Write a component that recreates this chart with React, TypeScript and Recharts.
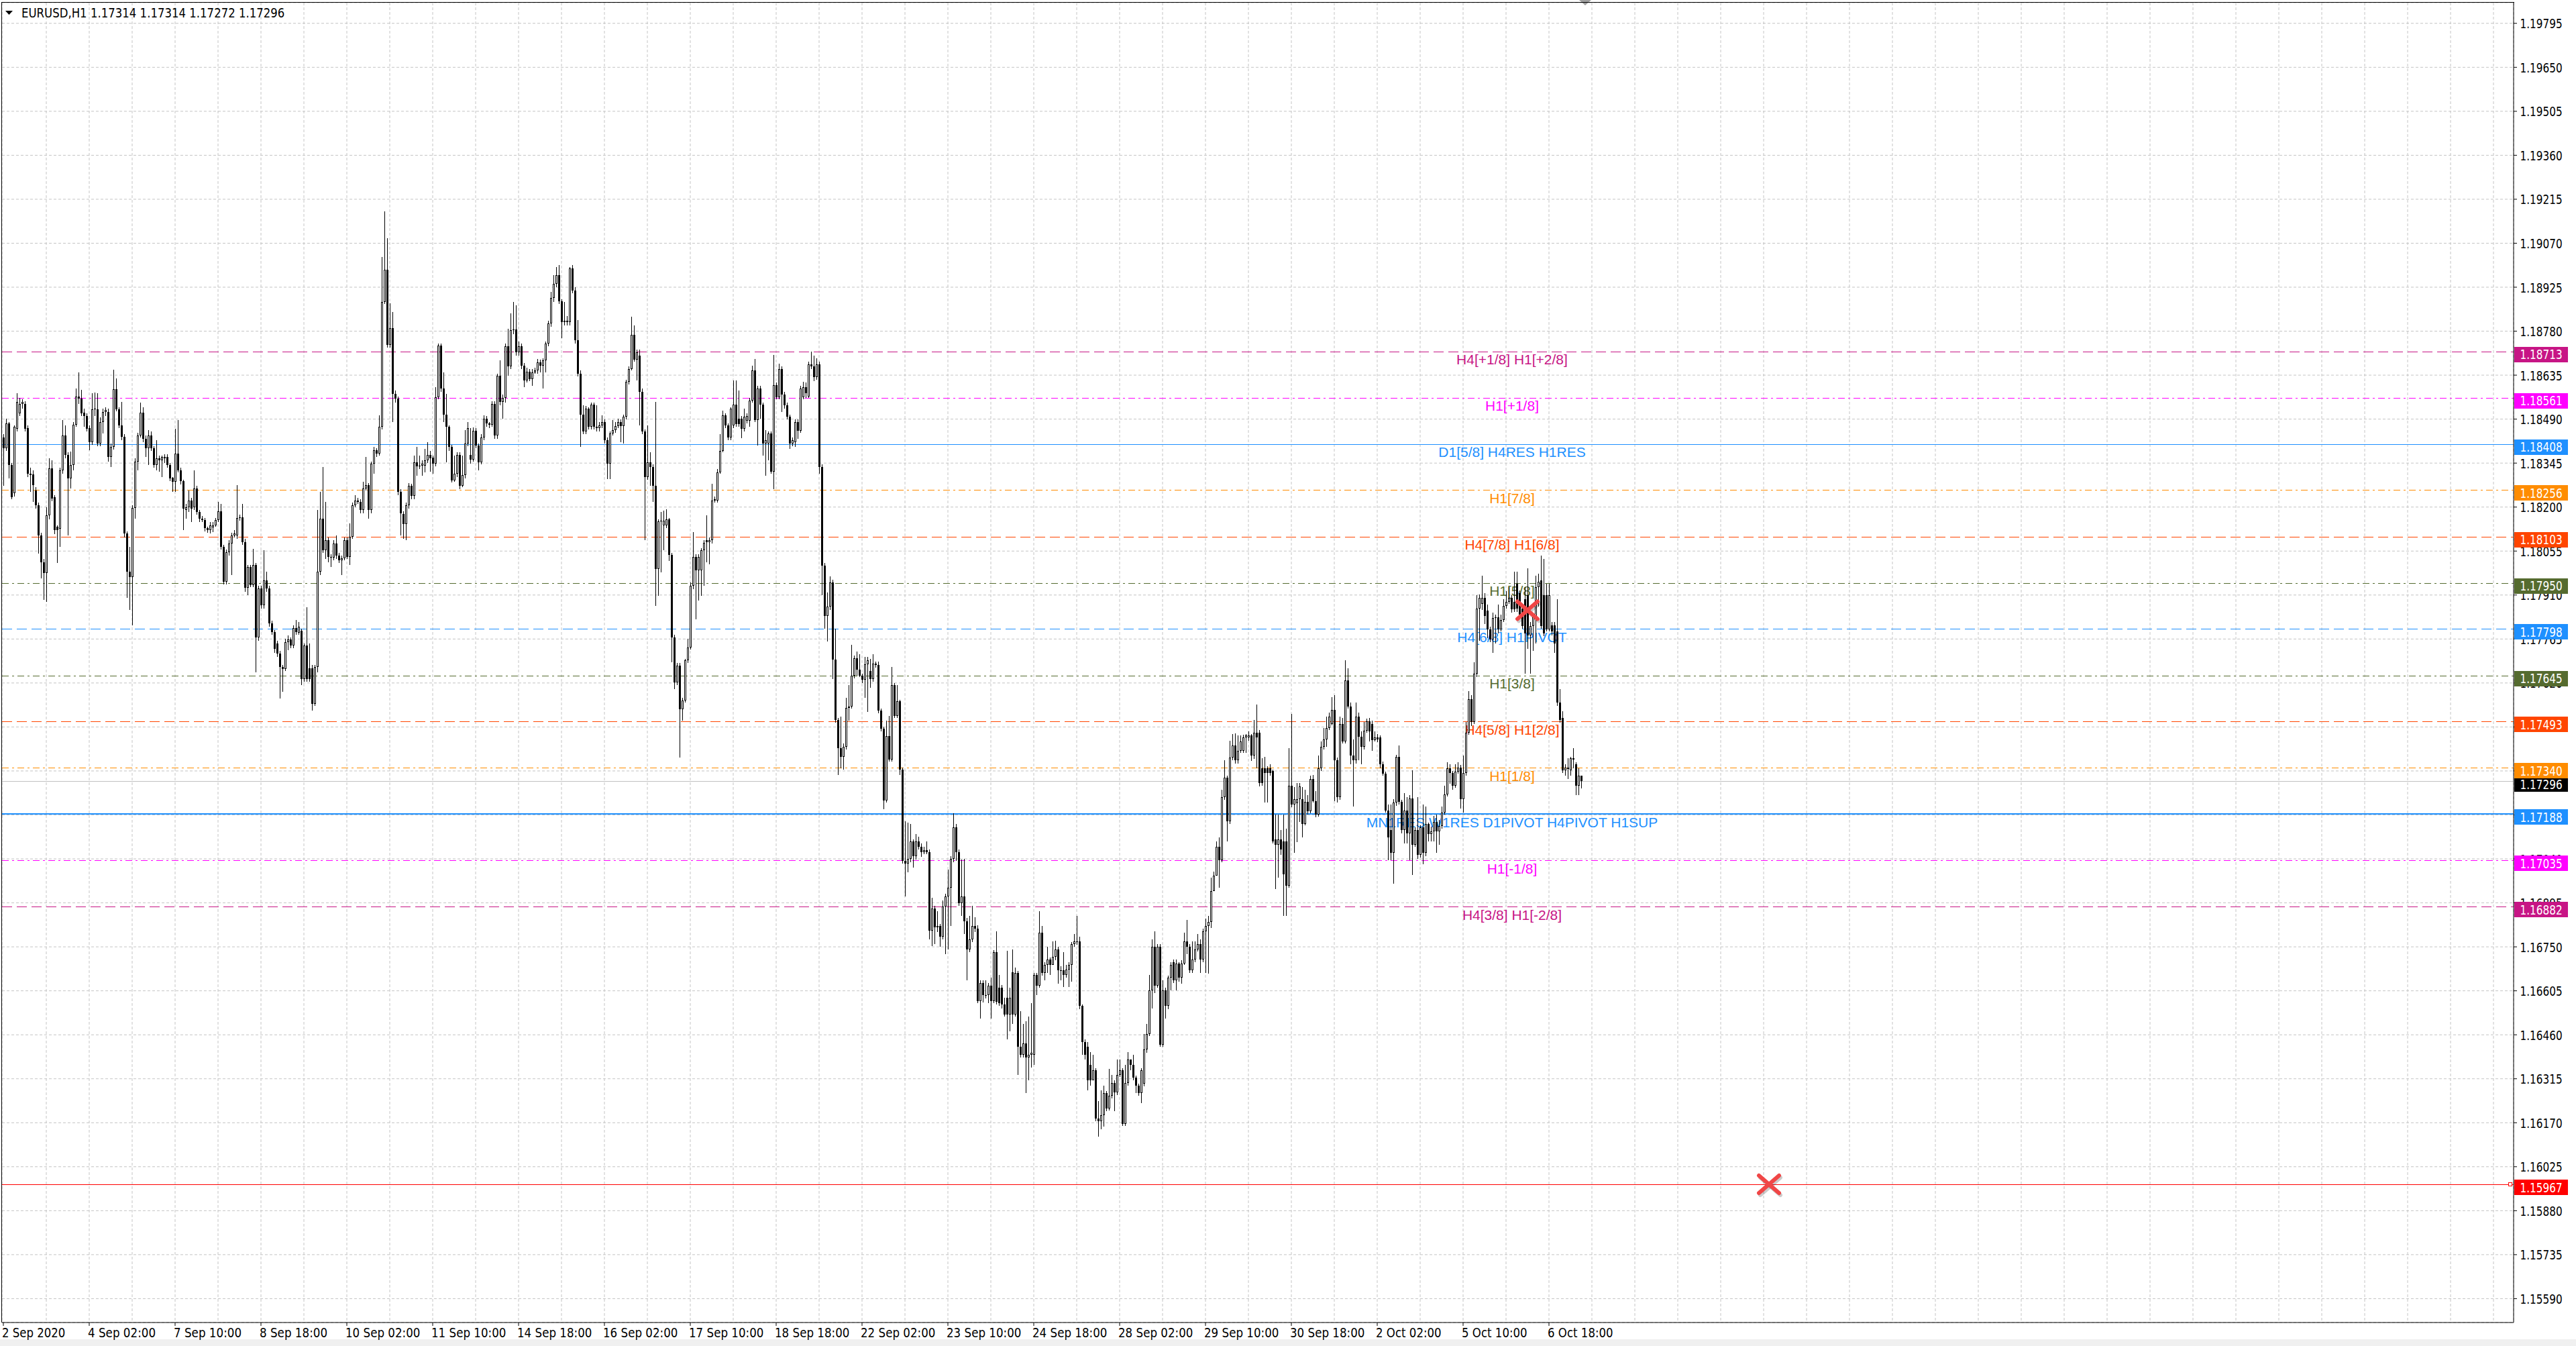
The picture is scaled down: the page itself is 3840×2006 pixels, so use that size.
import React from 'react';
import { ComposedChart, Bar, XAxis, YAxis, CartesianGrid, ReferenceLine, ReferenceDot } from 'recharts';

// ---------- data (prices in 1e-5 units above 1.10000) ----------
const PRICE_BASE = 1.1;
const PRICE_UNIT = 0.00001;

const OPEN = [
  8430,8393,8475,8338,8245,8459,8510,8540,8540,8461,
  8310,8307,8255,8206,8107,8019,7983,8173,8327,8233,
  8135,8129,8322,8437,8371,8294,8338,8472,8564,8558,
  8512,8501,8461,8415,8523,8523,8410,8481,8514,8514,
  8366,8399,8589,8523,8470,8431,8113,7988,7970,8197,
  8349,8437,8512,8426,8393,8437,8393,8338,8360,8355,
  8365,8366,8338,8296,8283,8377,8322,8285,8190,8200,
  8222,8200,8261,8184,8162,8157,8131,8124,8134,8140,
  8157,8186,8068,7953,8052,8080,8107,8107,8164,8167,
  8085,7933,8003,7942,8008,7771,7931,7876,7959,7931,
  7816,7788,7750,7717,7673,7667,7755,7764,7744,7801,
  7786,7793,7634,7744,7669,7669,7552,7673,7986,8162,
  8058,8091,8036,8033,8080,8041,8025,8031,8091,8036,
  8102,8206,8222,8217,8190,8261,8272,8190,8343,8387,
  8377,8465,8877,8982,8734,8789,8574,8558,8250,8177,
  8145,8205,8271,8236,8348,8335,8337,8337,8354,8373,
  8363,8343,8563,8733,8590,8504,8464,8398,8288,8310,
  8372,8271,8306,8409,8372,8357,8452,8403,8348,8430,
  8491,8475,8471,8540,8436,8634,8546,8559,8731,8665,
  8783,8786,8711,8731,8667,8618,8647,8623,8645,8650,
  8678,8667,8684,8739,8805,8889,8936,8964,8878,8810,
  8815,8810,8988,8915,8750,8640,8504,8449,8524,8464,
  8537,8464,8460,8469,8480,8420,8343,8442,8453,8467,
  8480,8467,8497,8612,8656,8768,8687,8700,8579,8449,
  8299,8348,8332,8271,7996,8152,8140,8140,8159,8042,
  7771,7622,7677,7534,7562,7694,7738,7941,8035,7991,
  7991,8057,8090,8084,8090,8222,8222,8315,8386,8502,
  8469,8430,8469,8537,8491,8491,8458,8485,8485,8552,
  8651,8486,8590,8537,8409,8409,8442,8317,8601,8563,
  8656,8570,8535,8497,8409,8414,8480,8452,8563,8596,
  8564,8671,8665,8629,8670,8332,8006,7842,7871,7951,
  7698,7498,7405,7376,7410,7537,7542,7644,7701,7664,
  7644,7630,7681,7660,7634,7684,7680,7528,7469,7232,
  7444,7368,7613,7512,7559,7334,7034,7024,7041,7097,
  7050,7097,7080,7063,7068,7063,6804,6877,6814,6819,
  6784,6882,6916,6945,7041,7143,7063,6894,6916,6835,
  6742,6775,6818,6811,6572,6631,6590,6590,6623,6572,
  6733,6615,6615,6560,6581,6527,6666,6527,6665,6420,
  6395,6432,6386,6395,6395,6657,6623,6797,6665,6691,
  6708,6691,6716,6742,6673,6673,6657,6675,6691,6758,
  6767,6767,6555,6437,6420,6361,6310,6344,6183,6175,
  6195,6268,6217,6259,6301,6270,6327,6344,6166,6301,
  6378,6361,6318,6293,6268,6300,6411,6462,6606,6750,
  6623,6750,6428,6606,6555,6648,6700,6640,6696,6648,
  6696,6767,6750,6673,6708,6742,6758,6708,6801,6818,
  6832,6934,6984,7079,7035,7244,7307,7164,7375,7413,
  7365,7396,7396,7441,7441,7447,7380,7456,7456,7339,
  7339,7339,7339,7329,7105,7086,7105,7098,7098,6952,
  7282,7219,7224,7238,7238,7155,7228,7197,7304,7231,
  7187,7339,7409,7434,7472,7485,7532,7365,7244,7485,
  7428,7628,7542,7380,7365,7510,7443,7409,7463,7494,
  7485,7431,7441,7441,7352,7320,7200,7136,7060,7225,
  7377,7228,7136,7200,7124,7240,7086,7136,7054,7143,
  7060,7155,7121,7130,7162,7130,7149,7193,7253,7339,
  7324,7282,7327,7342,7238,7324,7456,7567,7491,7650,
  7865,7880,7900,7859,7796,7764,7834,7836,7796,7827,
  7874,7887,7900,7887,7948,7916,7865,7897,7910,7777,
  7808,7840,7935,7958,7910,7910,7796,7810,7810,7789,
  7555,7504,7333,7340,7333,7371,7352,7282,7314,
];

const HIGH = [
  8440,8492,8480,8345,8470,8575,8560,8555,8550,8470,
  8330,8320,8265,8215,8115,8030,8200,8360,8355,8240,
  8140,8330,8487,8470,8380,8382,8480,8591,8644,8586,
  8525,8510,8470,8575,8578,8575,8495,8525,8530,8525,
  8410,8652,8624,8530,8547,8440,8120,8068,8205,8360,
  8445,8545,8530,8435,8453,8450,8400,8420,8370,8370,
  8375,8375,8345,8300,8459,8487,8330,8290,8210,8255,
  8230,8322,8270,8190,8170,8165,8135,8150,8150,8165,
  8217,8211,8075,8060,8090,8115,8125,8272,8175,8211,
  8095,8010,8010,8063,8015,7940,7940,8057,7986,7940,
  7825,7795,7760,7725,7680,7765,7777,7770,7810,7827,
  7821,7800,7750,7870,7750,7680,7680,8190,8250,8333,
  8217,8100,8045,8090,8107,8050,8040,8100,8100,8146,
  8215,8239,8230,8225,8283,8366,8280,8350,8398,8395,
  8503,9025,9174,9086,8872,8844,8585,8565,8260,8185,
  8215,8280,8277,8370,8398,8370,8355,8392,8414,8385,
  8370,8596,8739,8739,8645,8573,8470,8405,8370,8381,
  8380,8370,8453,8480,8460,8463,8460,8410,8440,8502,
  8500,8480,8550,8550,8640,8683,8570,8739,8788,8838,
  8876,8865,8745,8740,8675,8660,8655,8655,8660,8689,
  8685,8690,8745,8815,8909,8964,8992,8997,8885,8876,
  8830,8992,8999,8925,8816,8650,8535,8533,8530,8545,
  8545,8535,8480,8502,8490,8430,8450,8486,8480,8491,
  8490,8505,8620,8665,8827,8799,8720,8720,8590,8455,
  8469,8381,8340,8546,8160,8183,8189,8192,8165,8050,
  7780,7685,7685,7570,7700,7765,7952,8117,8045,8045,
  8065,8090,8172,8100,8277,8235,8325,8441,8518,8510,
  8475,8530,8618,8618,8585,8500,8524,8510,8560,8667,
  8689,8600,8600,8545,8453,8450,8450,8702,8610,8673,
  8665,8580,8545,8505,8430,8490,8490,8600,8612,8610,
  8680,8713,8700,8690,8679,8340,8015,7918,7972,7960,
  7799,7505,7508,7420,7571,7613,7745,7710,7723,7715,
  7650,7707,7707,7700,7715,7690,7690,7535,7475,7495,
  7512,7672,7620,7613,7565,7340,7165,7160,7156,7105,
  7122,7114,7090,7080,7097,7070,6911,6885,6868,6825,
  6902,6925,7004,7050,7190,7156,7070,7038,7041,6845,
  6851,6885,6848,6820,6640,6640,6640,6630,6648,6740,
  6801,6657,6625,6581,6736,6615,6742,6682,6670,6538,
  6496,6504,6521,6564,6665,6665,6868,6818,6700,6750,
  6715,6767,6770,6750,6685,6733,6690,6700,6765,6792,
  6851,6784,6560,6445,6437,6403,6395,6350,6242,6276,
  6293,6275,6347,6327,6310,6378,6378,6350,6361,6403,
  6378,6395,6325,6300,6350,6462,6496,6657,6775,6801,
  6760,6760,6640,6615,6655,6700,6708,6708,6700,6705,
  6797,6838,6760,6767,6767,6792,6775,6810,6843,6851,
  6978,6997,7098,7111,7269,7365,7315,7430,7451,7453,
  7447,7447,7450,7451,7460,7452,7497,7548,7465,7371,
  7377,7345,7352,7335,7187,7187,7136,7187,7139,7405,
  7517,7276,7289,7290,7276,7269,7250,7314,7316,7263,
  7380,7428,7472,7510,7523,7574,7580,7375,7510,7504,
  7694,7669,7555,7434,7555,7523,7460,7491,7502,7504,
  7495,7460,7451,7447,7360,7328,7219,7219,7238,7383,
  7415,7235,7257,7244,7250,7333,7145,7244,7150,7219,
  7212,7160,7146,7181,7187,7168,7212,7282,7358,7352,
  7330,7352,7358,7350,7380,7491,7593,7580,7688,7910,
  7912,7973,7916,7878,7805,7853,7846,7878,7846,7897,
  7922,7935,7910,7986,7986,7925,7875,7935,7999,7820,
  7850,7973,7980,8040,8030,7948,7948,7821,7821,7897,
  7600,7527,7352,7371,7377,7405,7358,7339,7314,
];

const LOW = [
  8270,8385,8294,8225,8235,8450,8500,8525,8450,8300,
  8250,8217,8195,8047,7964,7893,7887,8160,8220,8110,
  8016,8068,8310,8360,8107,8261,8320,8465,8540,8500,
  8465,8450,8388,8405,8500,8400,8400,8442,8500,8350,
  8333,8390,8515,8460,8420,8100,7900,7860,7810,8162,
  8322,8430,8415,8366,8338,8385,8330,8320,8316,8300,
  8345,8330,8285,8250,8250,8315,8275,8124,8162,8184,
  8151,8190,8175,8150,8150,8120,8115,8113,8118,8135,
  8150,8060,7945,7945,8040,7975,8100,8095,8155,8075,
  7920,7909,7935,7935,7656,7760,7865,7865,7920,7805,
  7780,7720,7706,7568,7590,7660,7728,7735,7735,7780,
  7780,7612,7625,7625,7625,7530,7545,7656,7975,8050,
  8030,8019,8003,8025,8030,8015,7975,8025,8030,8008,
  8095,8200,8210,8180,8180,8255,8162,8180,8311,8365,
  8370,8455,8870,8725,8725,8481,8545,8240,8107,8095,
  8090,8195,8225,8225,8304,8325,8304,8315,8345,8317,
  8310,8335,8555,8580,8480,8348,8385,8282,8284,8300,
  8260,8265,8295,8400,8343,8350,8395,8320,8340,8420,
  8465,8460,8465,8425,8425,8535,8491,8545,8634,8655,
  8770,8700,8700,8655,8596,8610,8615,8600,8640,8640,
  8645,8590,8645,8730,8795,8876,8925,8870,8757,8800,
  8800,8800,8905,8740,8630,8398,8440,8440,8455,8455,
  8455,8450,8450,8460,8410,8293,8293,8435,8445,8460,
  8414,8409,8490,8605,8650,8680,8618,8470,8440,8090,
  8290,8271,8216,7875,7908,7985,8057,8130,8023,7688,
  7600,7612,7374,7496,7556,7685,7730,7930,7831,7892,
  7908,7941,8018,8012,8080,8215,8215,8309,8380,8460,
  8420,8420,8460,8465,8465,8427,8450,8475,8464,8545,
  8480,8403,8491,8370,8304,8354,8310,8260,8555,8555,
  8513,8525,8490,8392,8400,8398,8425,8445,8555,8560,
  8561,8655,8615,8620,8310,7909,7800,7757,7860,7633,
  7490,7317,7339,7334,7400,7495,7535,7635,7644,7639,
  7620,7571,7525,7605,7625,7670,7520,7460,7204,7225,
  7360,7360,7505,7505,7317,7025,6916,6995,7030,7012,
  7038,7070,7046,7055,7055,6775,6753,6758,6800,6750,
  6775,6725,6741,6818,7030,7034,6885,6851,6792,6640,
  6733,6765,6800,6564,6513,6567,6580,6564,6513,6565,
  6560,6555,6547,6520,6445,6471,6496,6520,6327,6385,
  6386,6268,6310,6352,6361,6590,6615,6655,6640,6665,
  6657,6691,6705,6628,6640,6618,6648,6618,6635,6750,
  6757,6545,6395,6378,6276,6293,6310,6175,6124,6149,
  6158,6208,6210,6250,6208,6262,6320,6160,6160,6293,
  6344,6310,6268,6259,6234,6290,6400,6455,6547,6598,
  6615,6420,6420,6513,6545,6606,6630,6606,6635,6628,
  6690,6725,6665,6665,6700,6735,6665,6700,6665,6661,
  6813,6934,6984,6944,7030,7235,7098,7155,7365,7355,
  7355,7390,7390,7390,7430,7362,7370,7339,7278,7282,
  7225,7225,7314,7092,6940,6978,7054,6851,6851,6946,
  7210,7060,7096,7162,7111,7150,7187,7190,7225,7177,
  7180,7330,7400,7409,7465,7480,7231,7225,7235,7420,
  7420,7535,7352,7212,7355,7365,7352,7400,7455,7428,
  7396,7428,7425,7339,7314,7193,7035,7035,6959,7215,
  7220,7124,7092,7092,7035,6987,7080,7041,7045,7022,
  7050,7098,7098,7098,7060,7086,7140,7185,7245,7288,
  7269,7275,7320,7206,7193,7315,7450,7479,7485,7640,
  7758,7860,7815,7768,7755,7720,7751,7783,7790,7820,
  7865,7880,7853,7855,7855,7840,7800,7650,7732,7650,
  7726,7751,7872,7800,7775,7790,7790,7777,7720,7545,
  7490,7324,7314,7304,7314,7339,7250,7250,7272,
];

const CLOSE = [
  8395,8475,8338,8233,8465,8547,8541,8547,8459,8310,
  8305,8272,8206,8107,8019,7983,8173,8327,8228,8124,
  8124,8322,8437,8371,8294,8338,8472,8564,8558,8509,
  8501,8459,8415,8523,8525,8410,8481,8514,8520,8366,
  8399,8589,8523,8470,8431,8113,7988,7970,8197,8349,
  8437,8512,8426,8393,8437,8393,8338,8360,8355,8365,
  8360,8338,8294,8283,8377,8322,8285,8195,8200,8222,
  8195,8261,8184,8162,8157,8131,8124,8140,8140,8157,
  8186,8068,7953,8052,8080,8107,8112,8164,8167,8085,
  7933,8003,7942,8008,7771,7931,7876,7959,7931,7816,
  7788,7733,7717,7673,7667,7755,7764,7744,7801,7788,
  7805,7634,7744,7634,7634,7552,7673,7986,8162,8058,
  8091,8036,8033,8080,8041,8025,8031,8091,8036,8102,
  8206,8222,8217,8190,8261,8272,8190,8343,8387,8377,
  8465,8877,8982,8734,8789,8574,8558,8250,8179,8145,
  8205,8271,8236,8348,8335,8337,8344,8354,8373,8360,
  8343,8563,8733,8590,8504,8464,8398,8288,8310,8372,
  8271,8306,8409,8460,8357,8452,8403,8348,8430,8491,
  8475,8471,8540,8436,8634,8546,8559,8731,8665,8783,
  8786,8711,8731,8667,8618,8647,8623,8645,8650,8678,
  8667,8684,8739,8805,8889,8936,8964,8878,8810,8815,
  8810,8988,8915,8750,8640,8504,8449,8524,8464,8537,
  8464,8460,8469,8480,8420,8343,8442,8453,8467,8480,
  8467,8497,8612,8656,8768,8687,8711,8579,8449,8299,
  8348,8332,8271,7996,8152,8156,8156,8159,8042,7771,
  7622,7677,7534,7562,7694,7738,7941,8035,7991,8035,
  8057,8082,8084,8090,8222,8227,8315,8386,8502,8469,
  8430,8524,8537,8474,8474,8458,8497,8500,8552,8651,
  8486,8590,8537,8409,8420,8442,8317,8601,8563,8656,
  8570,8535,8497,8409,8420,8480,8452,8590,8596,8575,
  8671,8665,8629,8670,8332,8006,7842,7871,7951,7698,
  7498,7405,7376,7410,7537,7542,7644,7701,7664,7644,
  7630,7681,7694,7634,7684,7680,7528,7469,7232,7444,
  7368,7613,7512,7559,7334,7034,7024,7041,7097,7050,
  7097,7080,7063,7068,7063,6804,6877,6814,6819,6784,
  6882,6916,6945,7041,7143,7063,6894,6916,6835,6742,
  6775,6818,6811,6572,6631,6590,6590,6623,6572,6733,
  6568,6564,6560,6527,6527,6581,6527,6665,6420,6395,
  6432,6386,6395,6400,6657,6623,6797,6665,6691,6708,
  6691,6716,6742,6673,6673,6657,6675,6691,6758,6767,
  6767,6555,6437,6395,6310,6310,6344,6183,6175,6195,
  6268,6217,6259,6301,6270,6327,6344,6166,6301,6378,
  6361,6318,6293,6268,6344,6411,6462,6606,6750,6623,
  6750,6428,6606,6555,6648,6691,6640,6696,6648,6696,
  6767,6750,6673,6708,6742,6758,6708,6801,6818,6832,
  6934,6984,7079,7035,7244,7307,7164,7375,7413,7365,
  7396,7428,7441,7447,7447,7380,7456,7441,7291,7291,
  7324,7324,7324,7098,7086,7105,7070,6990,6952,7282,
  7219,7238,7238,7278,7155,7228,7197,7304,7231,7187,
  7339,7409,7434,7472,7510,7532,7365,7244,7485,7428,
  7628,7542,7380,7365,7510,7443,7409,7463,7494,7460,
  7431,7441,7434,7352,7320,7200,7111,7060,7225,7377,
  7228,7136,7200,7124,7240,7086,7136,7054,7143,7060,
  7155,7121,7130,7162,7130,7149,7193,7253,7339,7324,
  7282,7327,7342,7238,7324,7456,7567,7491,7650,7865,
  7900,7900,7840,7796,7764,7834,7836,7796,7827,7874,
  7887,7900,7862,7862,7865,7846,7808,7783,7777,7808,
  7840,7935,7954,7808,7783,7796,7910,7789,7751,7555,
  7498,7333,7340,7336,7371,7368,7282,7314,7296,
];

// time axis: one label every 32 hourly bars
const DATE_TICKS = [0,32,64,96,128,160,192,224,256,288,320,352,384,416,448,480,512,544,576];
const DATE_LABELS = [
  '2 Sep 2020','4 Sep 02:00','7 Sep 10:00','8 Sep 18:00','10 Sep 02:00','11 Sep 10:00',
  '14 Sep 18:00','16 Sep 02:00','17 Sep 10:00','18 Sep 18:00','22 Sep 02:00','23 Sep 10:00',
  '24 Sep 18:00','28 Sep 02:00','29 Sep 10:00','30 Sep 18:00','2 Oct 02:00','5 Oct 10:00','6 Oct 18:00',
];
const GRID_TICKS = [
  16,32,48,64,80,96,112,128,144,160,176,192,208,224,240,256,272,288,304,320,
  336,352,368,384,400,416,432,448,464,480,496,512,528,544,560,576,592,608,624,640,
  656,672,688,704,720,736,752,768,784,800,816,832,848,864,880,896,912,928,
];
const PRICE_TICKS = [
  1.19795,1.1965,1.19505,1.1936,1.19215,1.1907,1.18925,1.1878,1.18635,1.1849,
  1.18345,1.182,1.18055,1.1791,1.17765,1.1762,1.17475,1.1733,1.17185,1.1704,
  1.16895,1.1675,1.16605,1.1646,1.16315,1.1617,1.16025,1.1588,1.15735,1.1559,
];

// Murrey / pivot levels
const LEVEL_PRICES = [1.18713,1.18561,1.18408,1.18256,1.18103,1.17950,1.17798,1.17645,1.17493,1.17340,1.17188,1.17035,1.16882];
const LEVEL_TEXTS = [
  'H4[+1/8] H1[+2/8]','H1[+1/8]','D1[5/8] H4RES H1RES','H1[7/8]','H4[7/8] H1[6/8]','H1[5/8]',
  'H4[6/8] H1PIVOT','H1[3/8]','H4[5/8] H1[2/8]','H1[1/8]','MN1RES W1RES D1PIVOT H4PIVOT H1SUP',
  'H1[-1/8]','H4[3/8] H1[-2/8]',
];
const CURRENT_PRICE = 1.17296;
const TARGET_PRICE = 1.15967;
const TITLE = 'EURUSD,H1  1.17314 1.17314 1.17272 1.17296';
const MARK_BARS = [568, 658];
const MARK_PRICES = [1.1786, 1.15967];

// ---------- styles ----------
const C_MVR = '#C71585', C_MAG = '#FF00FF', C_BLUE = '#1E90FF', C_ORG = '#FF8C00', C_ORD = '#FF4500', C_OLV = '#556B2F';
const DASH = '15 7';
const DASHDOT = '10 5 3 5';
const LEVEL_STYLE = [
  { color: C_MVR, dash: DASH, w: 1 },
  { color: C_MAG, dash: DASHDOT, w: 1 },
  { color: C_BLUE, dash: undefined, w: 1 },
  { color: C_ORG, dash: DASHDOT, w: 1 },
  { color: C_ORD, dash: DASH, w: 1 },
  { color: C_OLV, dash: DASHDOT, w: 1 },
  { color: C_BLUE, dash: DASH, w: 1 },
  { color: C_OLV, dash: DASHDOT, w: 1 },
  { color: C_ORD, dash: DASH, w: 1 },
  { color: C_ORG, dash: DASHDOT, w: 1 },
  { color: C_BLUE, dash: undefined, w: 2 },
  { color: C_MAG, dash: DASHDOT, w: 1 },
  { color: C_MVR, dash: DASH, w: 1 },
];

const W = 3840;
const H = 2006;
const AXIS_FONT = "'DejaVu Sans', Verdana, sans-serif";
const AXIS_FONT_SIZE = 20;
const LABEL_FONT = "'Liberation Sans', Arial, sans-serif";
const X_DOMAIN: [number, number] = [-0.5, 935.5];
const Y_DOMAIN: [number, number] = [1.155113, 1.198631];
const LABEL_FRAC = 562.75 / 936;

// Tahoma-like advance widths (em) used to size the narrow MT4 UI text
const UI_EM: Record<string, number> = {
  '0': 0.546, '1': 0.546, '2': 0.546, '3': 0.546, '4': 0.546, '5': 0.546, '6': 0.546, '7': 0.546, '8': 0.546, '9': 0.546,
  '.': 0.293, ' ': 0.313, ':': 0.353, ',': 0.293, S: 0.557, e: 0.525, p: 0.557, O: 0.665, c: 0.459, t: 0.334,
  E: 0.554, U: 0.656, R: 0.637, D: 0.676, H: 0.681,
};
const uiWidth = (s: string, em: number) => s.split('').reduce((a, ch) => a + (UI_EM[ch] ?? 0.55), 0) * em;
const PRICE_EM = 17.7;
const DATE_EM = 18.9;
const TITLE_EM = 18.6;

const toPrice = (v: number) => PRICE_BASE + v * PRICE_UNIT;

const rows = OPEN.map((o, i) => {
  const c = CLOSE[i];
  const hi = Math.max(HIGH[i], o, c);
  const lo = Math.min(LOW[i], o, c);
  return { i, o: toPrice(o), h: toPrice(hi), l: toPrice(lo), c: toPrice(c), range: [toPrice(lo), toPrice(hi)] };
});

const UIText = (p: { x: number; y: number; text: string; em: number; fill?: string }) => (
  <text
    x={p.x}
    y={p.y}
    textAnchor="start"
    fontFamily={AXIS_FONT}
    fontSize={AXIS_FONT_SIZE}
    fill={p.fill || '#000'}
    textLength={uiWidth(p.text, p.em)}
    lengthAdjust="spacingAndGlyphs"
  >
    {p.text}
  </text>
);

const Candle = (props: any) => {
  const { x, y, width, height, payload } = props;
  if (x == null || y == null || !payload) return null;
  const top0 = Math.min(y, y + height);
  const bot0 = Math.max(y, y + height);
  const span = payload.h - payload.l;
  const yOf = (p: number) => (span > 0 ? top0 + ((payload.h - p) / span) * (bot0 - top0) : top0);
  const cx = Math.round(x + width / 2);
  const yH = Math.round(top0);
  const yL = Math.round(bot0);
  const bt = Math.round(yOf(Math.max(payload.o, payload.c)));
  const bb = Math.round(yOf(Math.min(payload.o, payload.c)));
  const bh = Math.max(1, bb - bt);
  const bull = payload.c > payload.o;
  return (
    <g shapeRendering="crispEdges">
      <rect x={cx} y={yH} width={1} height={Math.max(1, yL - yH)} fill="#000" />
      <rect x={cx - 1} y={bt} width={3} height={bh} fill="#000" />
      {bull && bh > 2 ? <rect x={cx} y={bt + 1} width={1} height={bh - 2} fill="#fff" /> : null}
    </g>
  );
};

const DateTick = (p: any) => {
  const idx = DATE_TICKS.indexOf(p.payload.value);
  const s = idx >= 0 ? DATE_LABELS[idx] : '';
  return <UIText x={p.x - 2} y={p.y + 15} text={s} em={DATE_EM} />;
};

// the axis keeps its ticks (for the grid); the labels are drawn later so the level boxes can cover them
const EmptyTick = () => <g />;

const tickLabelShape = (price: number) => (p: any) => {
  const { x1, x2, y1 } = p;
  if (x1 == null) return null;
  const xr = Math.max(x1, x2);
  return <UIText x={xr + 9.5} y={y1 + 7.5} text={price.toFixed(5)} em={PRICE_EM} />;
};

const levelShape = (k: number) => (p: any) => {
  const { x1, y1, x2 } = p;
  if (x1 == null) return null;
  const xl = Math.min(x1, x2);
  const xr = Math.max(x1, x2);
  const st = LEVEL_STYLE[k];
  const yy = st.w === 2 ? Math.round(y1) : Math.round(y1) + 0.5;
  return (
    <g>
      <line x1={xl} y1={yy} x2={xr} y2={yy} stroke={st.color} strokeWidth={st.w} strokeDasharray={st.dash} shapeRendering="crispEdges" />
      <text x={xl + (xr - xl) * LABEL_FRAC} y={y1 + 19.5} textAnchor="middle" fontFamily={LABEL_FONT} fontSize={21} fill={st.color}>
        {LEVEL_TEXTS[k]}
      </text>
    </g>
  );
};

const boxShape = (color: string, price: number) => (p: any) => {
  const { x1, x2, y1 } = p;
  if (x1 == null) return null;
  const xr = Math.max(x1, x2);
  return (
    <g>
      <rect x={xr + 1} y={Math.round(y1) - 7} width={80} height={23} fill={color} shapeRendering="crispEdges" />
      <UIText x={xr + 9.5} y={y1 + 11.5} text={price.toFixed(5)} em={PRICE_EM} fill="#fff" />
    </g>
  );
};

const plainLine = (color: string) => (p: any) => {
  const { x1, y1, x2 } = p;
  if (x1 == null) return null;
  const yy = Math.round(y1) + 0.5;
  return <line x1={Math.min(x1, x2)} y1={yy} x2={Math.max(x1, x2)} y2={yy} stroke={color} strokeWidth={1} shapeRendering="crispEdges" />;
};

const XMark = (p: any) => {
  const { cx, cy } = p;
  if (cx == null) return null;
  const dx = 15, dy = 13;
  const pair = (ox: number, oy: number) => (
    <>
      <line x1={cx - dx + ox} y1={cy - dy + oy} x2={cx + dx + ox} y2={cy + dy + oy} />
      <line x1={cx + dx + ox} y1={cy - dy + oy} x2={cx - dx + ox} y2={cy + dy + oy} />
    </>
  );
  return (
    <g strokeLinecap="round">
      <g stroke="rgba(0,0,0,0.2)" strokeWidth={6}>{pair(2, 3)}</g>
      <g stroke="#F04646" strokeWidth={6}>{pair(0, 0)}</g>
    </g>
  );
};

const EndSquare = (p: any) => {
  const { cx, cy } = p;
  if (cx == null) return null;
  return <rect x={Math.round(cx) - 3.5} y={Math.round(cy) - 2.5} width={5} height={5} fill="#fff" stroke="#FF0000" strokeWidth={1} />;
};

const ShiftMark = (p: any) => {
  const { cx, cy } = p;
  if (cx == null) return null;
  return <polygon points={`${cx - 9},${cy - 4} ${cx + 9},${cy - 4} ${cx},${cy + 4}`} fill="#A0A0A0" />;
};

export default function App() {
  return (
    <div style={{ position: 'absolute', left: 0, top: 0, width: W, height: H, background: '#F0F0F0', overflow: 'hidden' }}>
      <div style={{ position: 'absolute', left: 0, top: 0, width: W, height: H - 10, background: '#fff' }} />
      <div style={{ position: 'absolute', left: 0, top: 0 }}>
        <ComposedChart width={W} height={H} data={rows} margin={{ top: 4, right: 0, bottom: 0, left: 3 }}>
          <CartesianGrid xAxisId="grid" stroke="#C4C4C4" strokeDasharray="4 3" />
          <XAxis xAxisId="grid" dataKey="i" type="number" domain={X_DOMAIN} ticks={GRID_TICKS} interval={0} allowDataOverflow hide />
          <XAxis
            dataKey="i"
            type="number"
            domain={X_DOMAIN}
            ticks={DATE_TICKS}
            interval={0}
            allowDataOverflow
            height={35}
            tickSize={5}
            tickMargin={2}
            axisLine={{ stroke: '#000' }}
            tickLine={{ stroke: '#000' }}
            tick={<DateTick />}
          />
          <YAxis
            orientation="right"
            type="number"
            domain={Y_DOMAIN}
            ticks={PRICE_TICKS}
            interval={0}
            allowDataOverflow
            width={93}
            tickSize={5}
            tickMargin={4}
            axisLine={{ stroke: '#000' }}
            tickLine={{ stroke: '#000' }}
            tick={<EmptyTick />}
          />
          <ReferenceLine y={CURRENT_PRICE} shape={plainLine('#C0C0C0')} zIndex={240} />
          <ReferenceLine y={TARGET_PRICE} shape={plainLine('#FF0000')} zIndex={240} />
          {LEVEL_PRICES.map((pr, k) => (
            <ReferenceLine key={'lv' + k} y={pr} shape={levelShape(k)} zIndex={250} />
          ))}
          <Bar dataKey="range" barSize={3} shape={<Candle />} isAnimationActive={false} zIndex={300} />
          {PRICE_TICKS.map((t, k) => (
            <ReferenceLine key={'tk' + k} y={t} shape={tickLabelShape(t)} zIndex={790} />
          ))}
          <ReferenceLine y={CURRENT_PRICE} shape={boxShape('#000000', CURRENT_PRICE)} zIndex={800} />
          {LEVEL_PRICES.map((pr, k) => (
            <ReferenceLine key={'bx' + k} y={pr} shape={boxShape(LEVEL_STYLE[k].color, pr)} zIndex={810} />
          ))}
          <ReferenceLine y={TARGET_PRICE} shape={boxShape('#FF0000', TARGET_PRICE)} zIndex={810} />
          <ReferenceDot x={934.5} y={TARGET_PRICE} shape={<EndSquare />} zIndex={850} />
          <ReferenceDot x={589.5} y={Y_DOMAIN[1]} shape={<ShiftMark />} zIndex={850} />
          {MARK_BARS.map((b, k) => (
            <ReferenceDot key={'mk' + k} x={b} y={MARK_PRICES[k]} shape={<XMark />} zIndex={900} />
          ))}
        </ComposedChart>
      </div>
      <div style={{ position: 'absolute', left: 2, top: 3, width: 1, height: 1968, background: '#000' }} />
      <div style={{ position: 'absolute', left: 2, top: 3, width: 3746, height: 1, background: '#000' }} />
      <svg style={{ position: 'absolute', left: 0, top: 0 }} width={640} height={40}>
        <polygon points="8,16 19,16 13.5,22" fill="#000" />
        <UIText x={32} y={26} text={TITLE} em={TITLE_EM} />
      </svg>
    </div>
  );
}
